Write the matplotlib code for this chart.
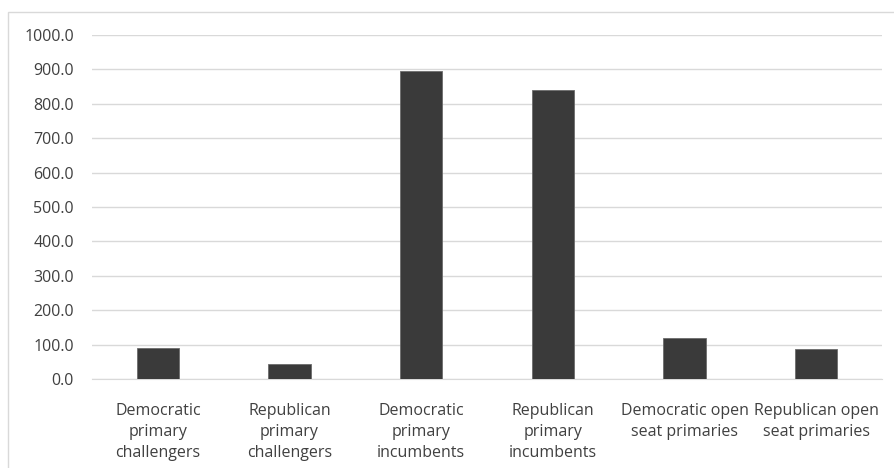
import matplotlib.pyplot as plt
from matplotlib.patches import Rectangle

# Data for the chart
categories = ['Democratic\nprimary\nchallengers', 'Republican\nprimary\nchallengers',
              'Democratic\nprimary\nincumbents', 'Republican\nprimary\nincumbents',
              'Democratic open\nseat primaries', 'Republican open\nseat primaries']
values = [89, 44, 895, 841, 119, 87]
yticks = [0, 100, 200, 300, 400, 500, 600, 700, 800, 900, 1000]

plt.rcParams['font.family'] = ['Open Sans', 'DejaVu Sans']

fig = plt.figure(figsize=(8.94, 4.68), dpi=100)
ax = fig.add_axes([92 / 894, 1 - 379 / 468, 790 / 894, 344 / 468])

# outer chart border (right and bottom edges fall outside the image)
top = 1 - 12 / 468
fig.patches.append(Rectangle((8 / 894, -0.1), 1.0, top + 0.1,
                             transform=fig.transFigure, fill=False,
                             edgecolor='#d9d9d9', linewidth=1))

x = range(len(categories))
ax.bar(x, values, width=0.32, color='#3a3a3a', edgecolor='#6b6b6b', linewidth=0.6, zorder=3)

ax.set_xlim(-0.5, len(categories) - 0.5)
ax.set_ylim(0, 1000)
ax.set_yticks(yticks)
ax.set_yticklabels([f'{v:.1f}' for v in yticks])
ax.set_xticks(list(x))
ax.set_xticklabels(categories, linespacing=1.45)

ax.grid(axis='y', color='#d9d9d9', linewidth=1, zorder=0)
for side in ['top', 'right', 'left']:
    ax.spines[side].set_visible(False)
ax.spines['bottom'].set_color('#d9d9d9')
ax.tick_params(axis='both', length=0, labelsize=11.5, colors='#404040')
ax.tick_params(axis='y', pad=13)
ax.tick_params(axis='x', pad=17)

plt.savefig('out.png', dpi=100)
